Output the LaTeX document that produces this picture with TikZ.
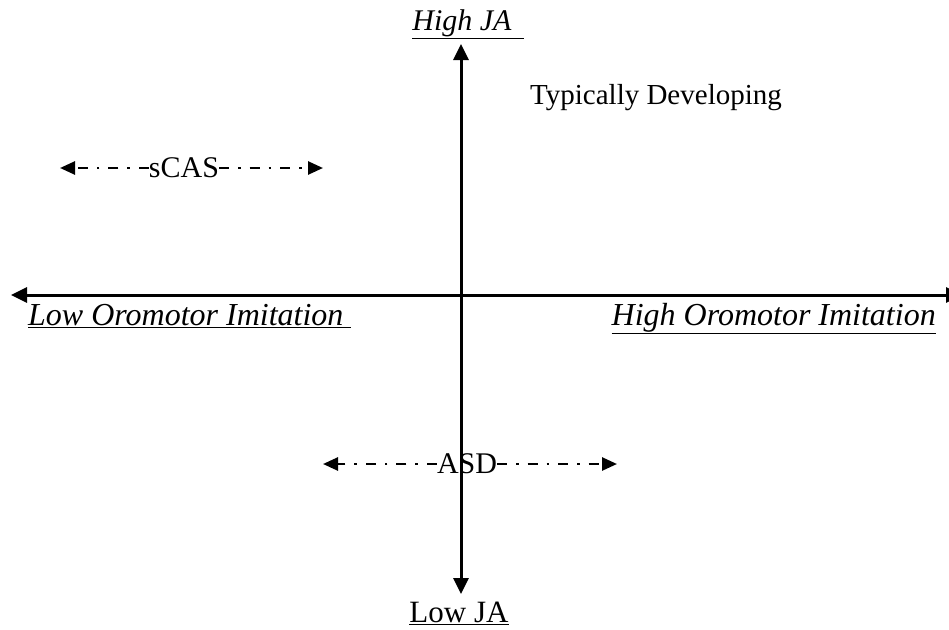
\documentclass[tikz,border=0pt]{standalone}
\usepackage{fontspec}
\setmainfont{Liberation Serif}
\usetikzlibrary{arrows.meta}
\begin{document}
\begin{tikzpicture}[x=1pt,y=-1pt,
  axis/.style={line width=3pt,-{Triangle[length=16pt,width=15pt]}},
  rangeline/.style={line width=2.6pt,dash pattern=on 10pt off 9pt on 2.5pt off 9pt,-{Triangle[length=15pt,width=13pt]}},
  lbl/.style={font=\fontsize{30}{36}\selectfont,inner sep=0pt,anchor=base},
  biglbl/.style={lbl,font=\fontsize{32}{38}\selectfont}]
\clip (0,0) rectangle (949,629);
\fill[white] (0,0) rectangle (949,629);
% axes
\coordinate (c) at (461,295);
\coordinate (top) at (461,44);
\coordinate (bot) at (461,594);
\coordinate (left) at (11,295);
\coordinate (right) at (962,295);
\draw[axis] (c) -- (top);
\draw[axis] (c) -- (bot);
\draw[axis] (c) -- (left);
\draw[axis] (c) -- (right);
% labels
\node[lbl] (hja) at (468,30) {\underline{\textit{High JA}\hspace{12pt}}};
\node[lbl,font=\fontsize{31}{37}\selectfont] (lja) at (459,622) {\underline{Low JA}};
\node[biglbl,anchor=base west] (loi) at (28,325) {\underline{\textit{Low Oromotor Imitation}\ }};
\node[biglbl,anchor=base east] (hoi) at (936,325) {\underline{\textit{High Oromotor Imitation}}};
\node[lbl,font=\fontsize{29}{35}\selectfont] (td) at (656,104) {Typically Developing};
% sCAS
\node[lbl] (scas) at (184,177) {sCAS};
\coordinate (scasL) at (60,168);
\coordinate (scasR) at (323,168);
\draw[rangeline] (scas.west |- scasL) -- (scasL);
\draw[rangeline] (scas.east |- scasR) -- (scasR);
% ASD
\node[lbl] (asd) at (467,473) {ASD};
\coordinate (asdL) at (323,464);
\coordinate (asdR) at (617,464);
\draw[rangeline] (asd.west |- asdL) -- (asdL);
\draw[rangeline] (asd.east |- asdR) -- (asdR);
\end{tikzpicture}
\end{document}
